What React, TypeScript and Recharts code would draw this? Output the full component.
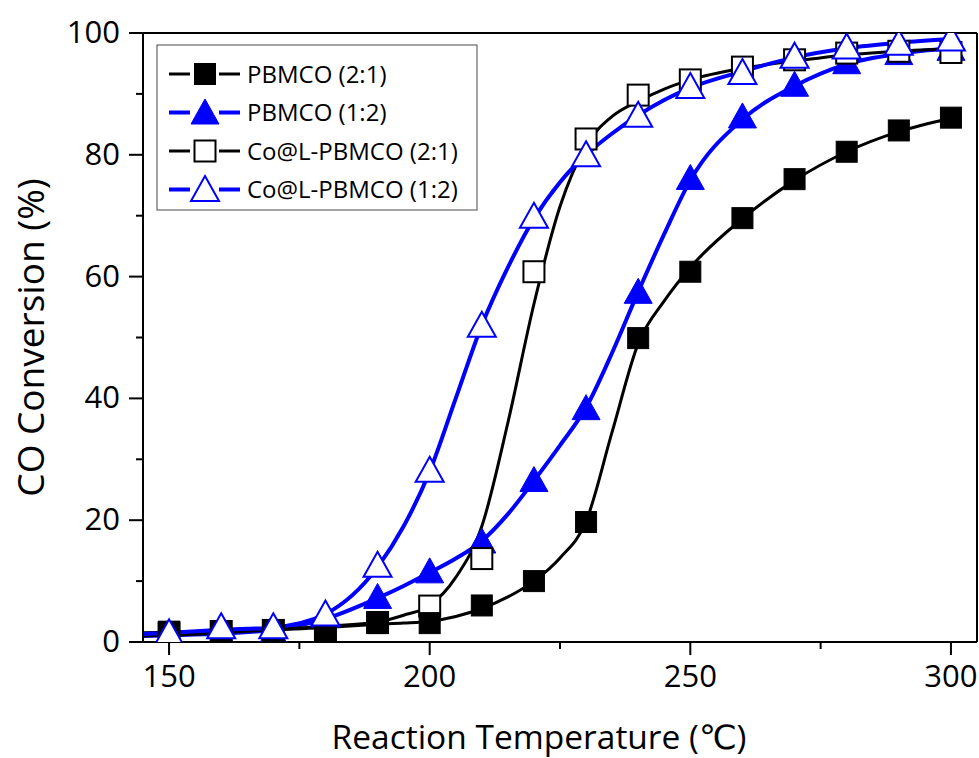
import React from 'react';
import { ComposedChart, Line, Scatter, XAxis, YAxis, ReferenceLine, Label } from 'recharts';

// Measured points (°C, % conversion)
const temps = [150, 160, 170, 180, 190, 200, 210, 220, 230, 240, 250, 260, 270, 280, 290, 300];
const pbmco21 = [1.7, 1.8, 1.9, 1.3, 3.1, 3.1, 6.0, 10.0, 19.7, 49.9, 60.8, 69.6, 76.0, 80.5, 84.0, 86.1];
const pbmco12 = [1.0, 1.2, 1.6, 4.3, 7.4, 11.6, 16.5, 26.6, 38.4, 57.5, 76.2, 86.3, 91.5, 95.2, 96.7, 97.4];
const col21 = [1.5, 1.7, 1.9, 1.5, 3.2, 5.9, 13.7, 60.8, 82.6, 89.8, 92.3, 94.4, 95.6, 96.7, 97.0, 96.8];
const col12 = [1.5, 2.5, 2.5, 4.6, 12.6, 28.2, 52.0, 69.9, 80.0, 86.5, 91.2, 93.5, 96.2, 97.7, 98.3, 99.0];

// Fitted curves
const fitTemps = [145, 150, 160, 170, 180, 190, 195, 200, 205, 210, 215, 220, 225, 230, 235, 240, 245, 250, 260, 270, 280, 290, 300];
const fitPbmco21 = [1.5, 1.6, 1.8, 2.0, 2.4, 2.9, 3.1, 3.4, 4.2, 5.5, 7.4, 10.0, 13.8, 19.8, 34.5, 49.0, 56.0, 61.5, 69.5, 75.8, 80.5, 83.8, 86.0];
const fitPbmco12 = [1.0, 1.1, 1.4, 2.0, 3.8, 7.2, 9.2, 11.4, 13.7, 16.6, 21.0, 26.5, 32.3, 38.5, 47.5, 57.5, 67.0, 75.8, 85.8, 91.3, 94.9, 96.6, 97.5];
const fitCol21 = [1.0, 1.1, 1.5, 2.0, 2.6, 3.3, 4.4, 6.0, 10.6, 19.0, 36.0, 55.5, 71.5, 81.5, 86.3, 88.8, 90.8, 92.3, 94.2, 95.4, 96.4, 97.0, 97.4];
const fitCol12 = [1.3, 1.5, 2.0, 2.4, 4.6, 12.3, 19.0, 28.0, 40.0, 52.0, 61.5, 69.5, 75.5, 80.0, 83.5, 86.5, 89.0, 91.0, 93.7, 96.0, 97.5, 98.4, 99.0];

const seriesNames = ['PBMCO (2:1)', 'PBMCO (1:2)', 'Co@L-PBMCO (2:1)', 'Co@L-PBMCO (1:2)'];

const xTicks = [150, 175, 200, 225, 250, 275, 300];
const xLabels = [150, 200, 250, 300];
const yTicks = [0, 10, 20, 30, 40, 50, 60, 70, 80, 90, 100];
const yLabels = [0, 20, 40, 60, 80, 100];

const FONT = '"Open Sans", "DejaVu Sans", sans-serif';
const BLUE = '#0000FF';

const toData = (xs: number[], ys: number[]) => xs.map((t, i) => ({ t, v: ys[i] }));

type Kind = 'square' | 'triangle';
const series = [
  { name: seriesNames[0], kind: 'square' as Kind, filled: true, color: '#000', width: 3, points: toData(temps, pbmco21), fit: toData(fitTemps, fitPbmco21) },
  { name: seriesNames[1], kind: 'triangle' as Kind, filled: true, color: BLUE, width: 4, points: toData(temps, pbmco12), fit: toData(fitTemps, fitPbmco12) },
  { name: seriesNames[2], kind: 'square' as Kind, filled: false, color: '#000', width: 3, points: toData(temps, col21), fit: toData(fitTemps, fitCol21) },
  { name: seriesNames[3], kind: 'triangle' as Kind, filled: false, color: BLUE, width: 4, points: toData(temps, col12), fit: toData(fitTemps, fitCol12) },
];
// marker stacking order (bottom to top)
const markerOrder = [1, 2, 0, 3];

const Marker = ({ cx, cy, kind, filled, color }: { cx: number; cy: number; kind: Kind; filled: boolean; color: string }) => {
  if (kind === 'square') {
    const s = 21;
    return <rect x={cx - s / 2} y={cy - s / 2} width={s} height={s} fill={filled ? color : '#fff'} stroke={color} strokeWidth={filled ? 1 : 2} />;
  }
  const w = 28;
  const h = 25;
  const pts = `${cx},${cy - h / 2 - 1} ${cx + w / 2},${cy + h / 2 - 1} ${cx - w / 2},${cy + h / 2 - 1}`;
  return <polygon points={pts} fill={filled ? color : '#fff'} stroke={color} strokeWidth={filled ? 1 : 2} strokeLinejoin="miter" />;
};

const XTick = (props: any) => {
  const { x, y, payload } = props;
  const major = xLabels.includes(payload.value);
  return (
    <g>
      <line x1={x} x2={x} y1={y} y2={y + (major ? 13 : 7)} stroke="#000" strokeWidth={2} />
      {major && (
        <text x={x} y={y + 45} textAnchor="middle" fontSize={31} fontFamily={FONT} fill="#000">
          {payload.value}
        </text>
      )}
    </g>
  );
};

const YTick = (props: any) => {
  const { x, y, payload } = props;
  const major = yLabels.includes(payload.value);
  return (
    <g>
      <line x1={x} x2={x - (major ? 14 : 7)} y1={y} y2={y} stroke="#000" strokeWidth={2} />
      {major && (
        <text x={x - 23} y={y + 10} textAnchor="end" fontSize={31} fontFamily={FONT} fill="#000">
          {payload.value}
        </text>
      )}
    </g>
  );
};

const LegendBox = () => (
  <svg width={322} height={167} style={{ position: 'absolute', left: 156, top: 44 }}>
    <rect x={1} y={1} width={320} height={165} fill="#fff" stroke="#666" strokeWidth={1.2} />
    {series.map((s, i) => {
      const cy = 30 + i * 38.5;
      return (
        <g key={s.name}>
          <line x1={13} x2={34} y1={cy} y2={cy} stroke={s.color} strokeWidth={s.width} />
          <line x1={63} x2={84} y1={cy} y2={cy} stroke={s.color} strokeWidth={s.width} />
          <Marker cx={49} cy={cy} kind={s.kind} filled={s.filled} color={s.color} />
          <text x={91} y={cy + 8.5} fontSize={24} fontFamily={FONT} fill="#000">
            {s.name}
          </text>
        </g>
      );
    })}
  </svg>
);

export default function App() {
  return (
    <div style={{ position: 'absolute', left: 0, top: 0, width: 979, height: 758, background: '#fff', fontFamily: FONT }}>
      <ComposedChart width={979} height={758} margin={{ top: 33, right: 2, bottom: 0, left: 0 }}>
        <XAxis
          dataKey="t"
          type="number"
          domain={[145, 305]}
          ticks={xTicks}
          tick={<XTick />}
          tickLine={false}
          tickSize={0}
          tickMargin={0}
          interval={0}
          height={116}
          axisLine={{ stroke: '#000', strokeWidth: 2 }}
          allowDataOverflow
        >
          <Label value="Reaction Temperature (℃)" position="insideBottom" offset={9} dx={-21} fontSize={33.5} fill="#000" fontFamily={FONT} />
        </XAxis>
        <YAxis
          dataKey="v"
          type="number"
          domain={[0, 100]}
          ticks={yTicks}
          tick={<YTick />}
          tickLine={false}
          tickSize={0}
          tickMargin={0}
          interval={0}
          width={143}
          axisLine={{ stroke: '#000', strokeWidth: 2 }}
          allowDataOverflow
        >
          <Label value="CO Conversion (%)" angle={-90} position="insideLeft" offset={31} style={{ textAnchor: 'middle' }} fontSize={37} fill="#000" fontFamily={FONT} />
        </YAxis>
        <ReferenceLine y={100} stroke="#000" strokeWidth={2} />
        <ReferenceLine x={305} stroke="#000" strokeWidth={2} />
        {series.map((s) => (
          <Line
            key={'fit-' + s.name}
            data={s.fit}
            dataKey="v"
            type="monotone"
            stroke={s.color}
            strokeWidth={s.width}
            dot={false}
            activeDot={false}
            isAnimationActive={false}
            legendType="none"
          />
        ))}
        {markerOrder.map((idx) => {
          const s = series[idx];
          return (
            <Scatter
              key={'pts-' + s.name}
              data={s.points}
              dataKey="v"
              isAnimationActive={false}
              shape={(p: any) => <Marker cx={p.cx} cy={p.cy} kind={s.kind} filled={s.filled} color={s.color} />}
            />
          );
        })}
      </ComposedChart>
      <LegendBox />
    </div>
  );
}
